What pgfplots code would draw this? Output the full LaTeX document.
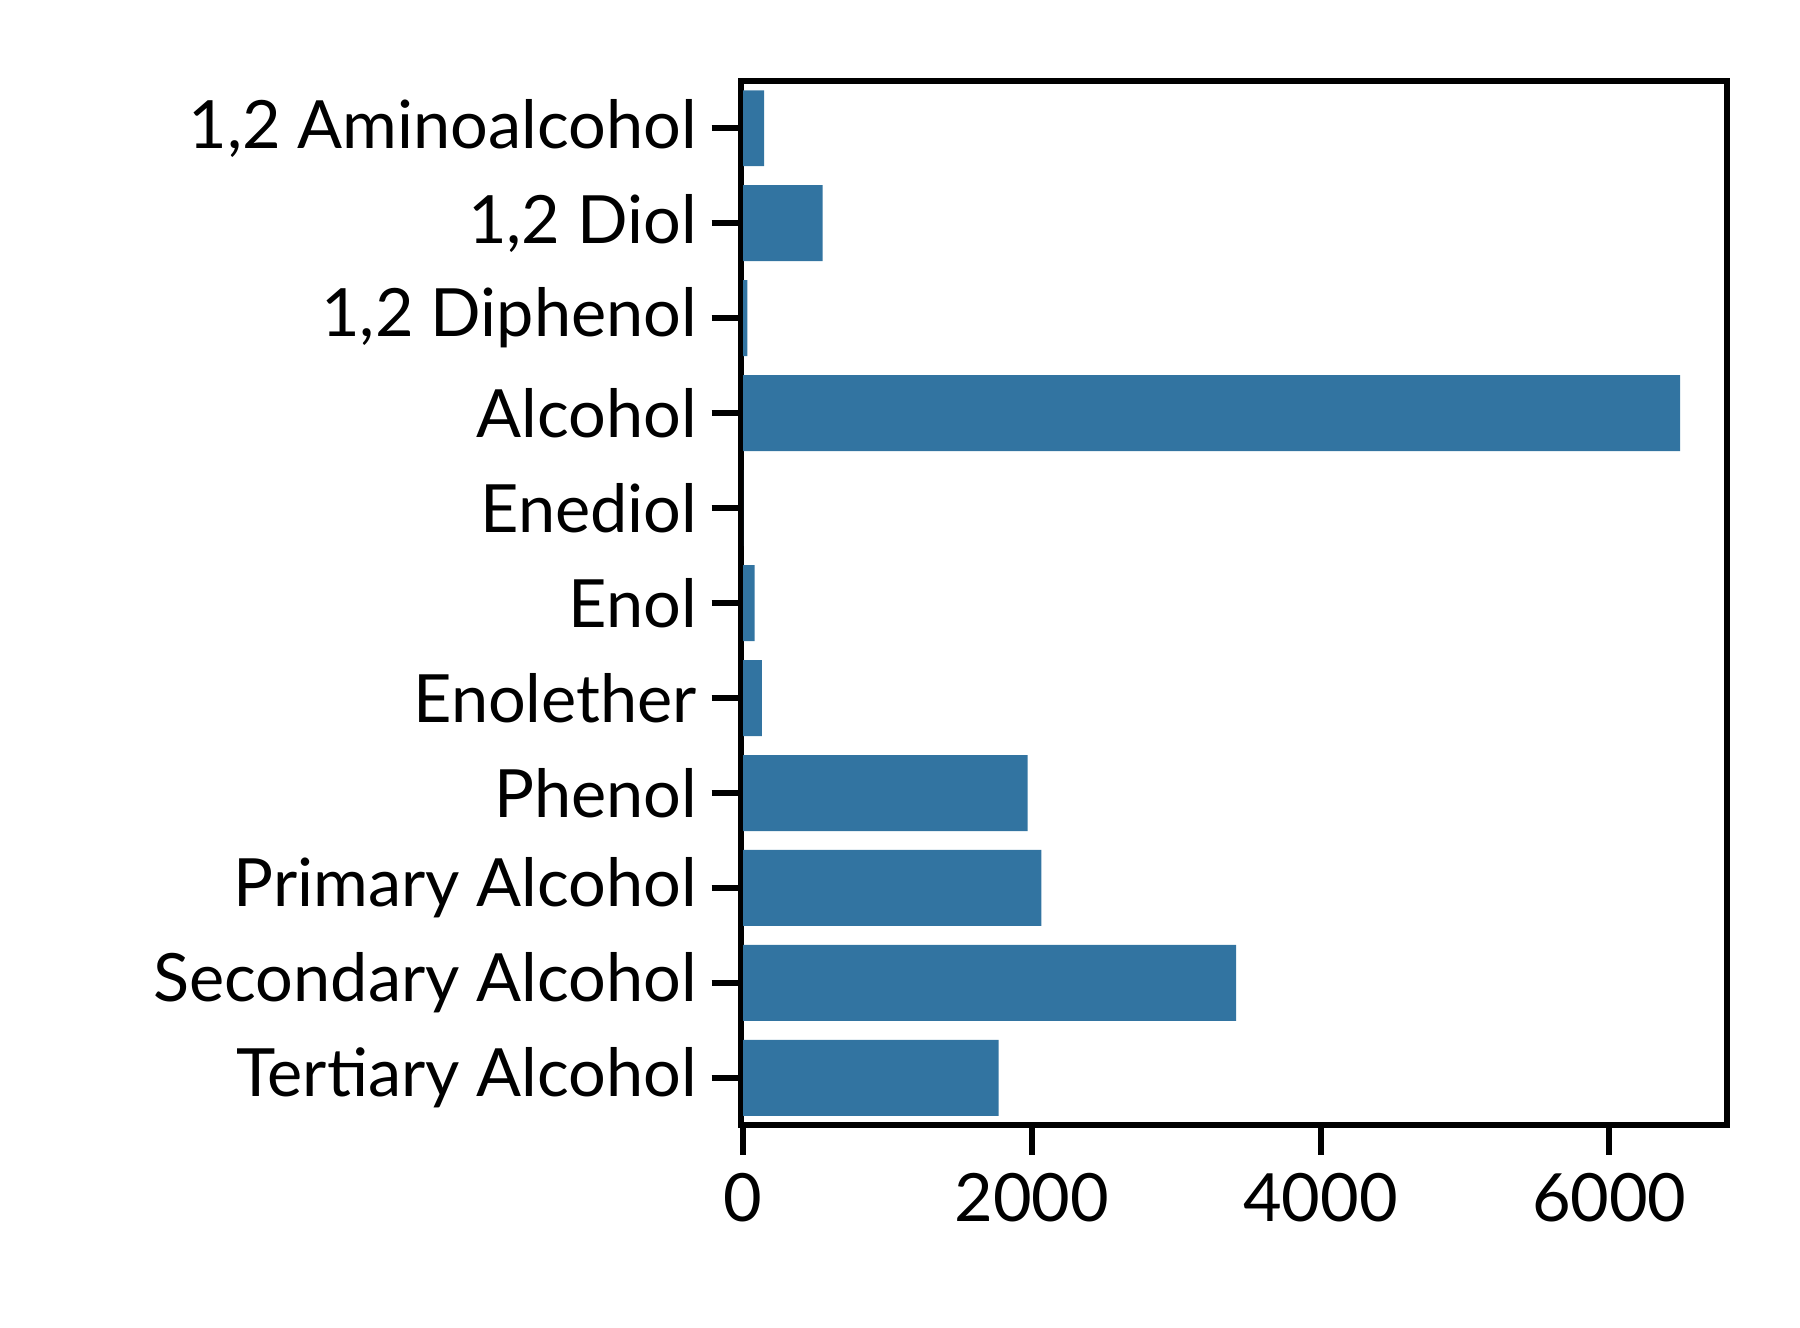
\documentclass[border=0pt]{standalone}
\usepackage{pgfplots}
\pgfplotsset{compat=1.18}
\usepackage{fontspec}
\setmainfont{Lato}
\definecolor{barblue}{HTML}{3274A1}
\begin{document}
\begin{tikzpicture}
\useasboundingbox (-178pt,-48.6pt) rectangle (254.5pt,270.4pt);
\begin{axis}[at={(0,0)},anchor=south west,
  scale only axis, width=237pt, height=251pt,
  xbar, bar width=0.8, bar shift=0pt,
  y dir=reverse, ymin=-0.5, ymax=10.5,
  xmin=-16, xmax=6816,
  ytick={0,...,10},
  yticklabels={{1,2 Aminoalcohol},{1,2 Diol},{1,2 Diphenol},Alcohol,Enediol,Enol,Enolether,Phenol,Primary Alcohol,Secondary Alcohol,Tertiary Alcohol},
  xtick={0,2000,4000,6000},
  scaled x ticks=false,
  /pgf/number format/assume math mode=true,
  /pgf/number format/1000 sep={},
  tick style={line width=1.4pt,black}, major tick length=7pt,
  tick align=outside, xtick pos=bottom, ytick pos=left,
  axis line style={line width=1.4pt},
  ticklabel style={font=\fontsize{16}{18}\selectfont},
  xticklabel style={yshift=-1pt},
]
\addplot[fill=barblue,draw=none] coordinates {
(145,0) (550,1) (30,2) (6490,3) (0,4) (80,5) (130,6) (1970,7) (2065,8) (3415,9) (1770,10)};
\end{axis}
\end{tikzpicture}
\end{document}
